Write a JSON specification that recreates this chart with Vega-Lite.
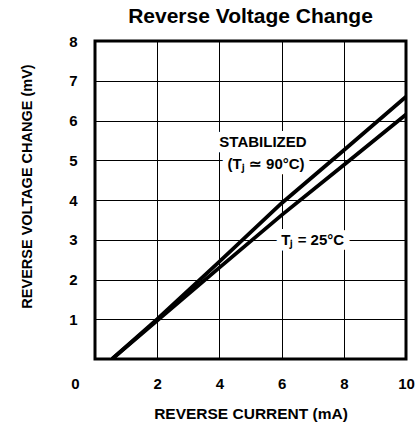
{
  "$schema": "https://vega.github.io/schema/vega-lite/v6.json",
  "width": 311,
  "height": 318,
  "autosize": "none",
  "padding": {"left": 95, "top": 41, "right": 14, "bottom": 70},
  "background": "white",
  "config": {
    "view": {"stroke": "black", "strokeWidth": 3},
    "font": "Liberation Sans"
  },
  "title": {
    "text": "Reverse Voltage Change",
    "font": "Liberation Sans",
    "fontSize": 21,
    "fontWeight": "bold",
    "color": "black",
    "offset": 7
  },
  "datasets": {
    "curves": [
      {"series": "stabilized", "current": 0.55, "voltage": 0},
      {"series": "stabilized", "current": 2, "voltage": 1.0},
      {"series": "stabilized", "current": 4, "voltage": 2.45},
      {"series": "stabilized", "current": 6, "voltage": 3.92},
      {"series": "stabilized", "current": 8, "voltage": 5.25},
      {"series": "stabilized", "current": 10, "voltage": 6.6},
      {"series": "25C", "current": 0.55, "voltage": 0},
      {"series": "25C", "current": 2, "voltage": 0.97},
      {"series": "25C", "current": 4, "voltage": 2.3},
      {"series": "25C", "current": 6, "voltage": 3.62},
      {"series": "25C", "current": 8, "voltage": 4.88},
      {"series": "25C", "current": 10, "voltage": 6.15}
    ],
    "notes": [
      {"label": "STABILIZED", "current": 5.4, "voltage": 5.45},
      {"label": "(Tⱼ ≃ 90°C)", "current": 5.5, "voltage": 4.9},
      {"label": "Tⱼ = 25°C", "current": 7.0, "voltage": 2.99}
    ]
  },
  "layer": [
    {
      "data": {"name": "curves"},
      "mark": {"type": "line", "color": "black", "strokeWidth": 3.8, "clip": true},
      "encoding": {
        "x": {
          "field": "current", "type": "quantitative",
          "scale": {"domain": [0, 10], "nice": false, "zero": true},
          "axis": {
            "values": [0, 2, 4, 6, 8, 10],
            "title": "REVERSE CURRENT (mA)",
            "titleFontSize": 15.5,
            "titleFontWeight": "bold",
            "titleColor": "black",
            "titlePadding": 15,
            "labelFontSize": 15,
            "labelFontWeight": "bold",
            "labelColor": "black",
            "labelPadding": 17,
            "labelFlush": false,
            "labelOffset": {"condition": {"test": "datum.value == 0", "value": -20}, "value": 0},
            "ticks": false,
            "domain": false,
            "grid": true,
            "gridColor": "black",
            "gridWidth": 1,
            "gridOpacity": 1
          }
        },
        "y": {
          "field": "voltage", "type": "quantitative",
          "scale": {"domain": [0, 8], "nice": false},
          "axis": {
            "values": [1, 2, 3, 4, 5, 6, 7, 8],
            "title": "REVERSE VOLTAGE CHANGE (mV)",
            "titleFontSize": 14.5,
            "titleFontWeight": "bold",
            "titleColor": "black",
            "titlePadding": 34,
            "titleY": 145,
            "labelFontSize": 15,
            "labelFontWeight": "bold",
            "labelColor": "black",
            "labelPadding": 18,
            "labelFlush": false,
            "ticks": false,
            "domain": false,
            "grid": true,
            "gridColor": "black",
            "gridWidth": 1,
            "gridOpacity": 1
          }
        },
        "detail": {"field": "series", "type": "nominal"}
      }
    },
    {
      "data": {"name": "notes"},
      "mark": {"type": "text", "fontSize": 15, "fontWeight": "bold", "stroke": "white", "strokeWidth": 12, "strokeJoin": "round", "color": "white", "align": "center", "baseline": "middle"},
      "encoding": {
        "x": {"field": "current", "type": "quantitative"},
        "y": {"field": "voltage", "type": "quantitative"},
        "text": {"field": "label"}
      }
    },
    {
      "data": {"name": "notes"},
      "mark": {"type": "text", "fontSize": 15, "fontWeight": "bold", "color": "black", "align": "center", "baseline": "middle"},
      "encoding": {
        "x": {"field": "current", "type": "quantitative"},
        "y": {"field": "voltage", "type": "quantitative"},
        "text": {"field": "label"}
      }
    }
  ]
}
